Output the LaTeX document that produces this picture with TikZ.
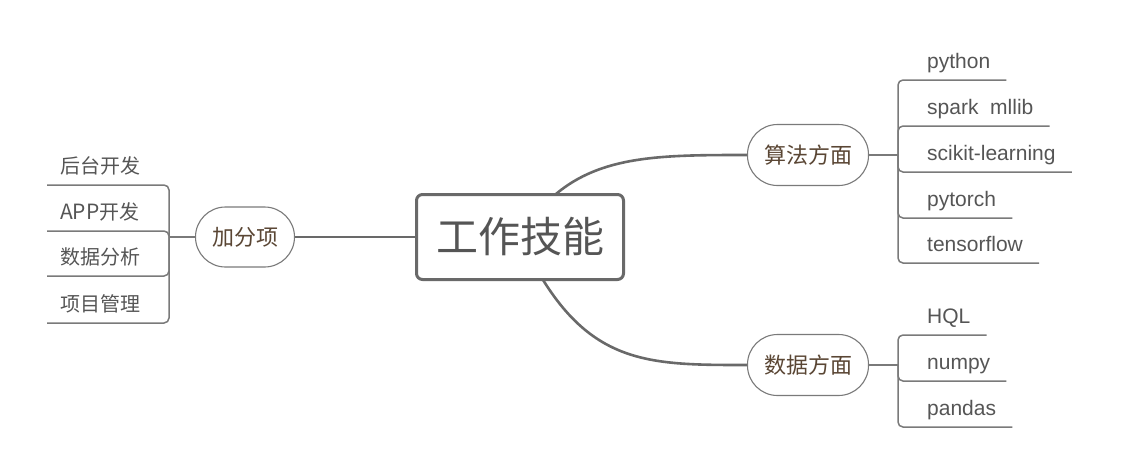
\documentclass[tikz,border=0pt]{standalone}
\usepackage{fontspec}
\setmainfont{Liberation Sans}
\newfontfamily\cjk{Noto Sans CJK SC}
\usepackage{tikz}
\usetikzlibrary{positioning, backgrounds}
\definecolor{linegray}{HTML}{696969}
\definecolor{rimgray}{HTML}{7A7A7A}
\definecolor{textgray}{HTML}{555555}
\definecolor{topicbrown}{HTML}{5A4634}

\begin{document}
\begin{tikzpicture}[x=1pt, y=-1pt,
  rootbox/.style={rectangle, draw=linegray, line width=3pt, rounded corners=6pt, fill=white,
             minimum width=207pt, minimum height=85pt, text=textgray,
             font=\cjk\fontsize{42}{48}\selectfont},
  topicbox/.style={rectangle, draw=rimgray, line width=1.1pt, rounded corners=30pt, fill=white,
             minimum width=121pt, minimum height=61pt, text=topicbrown,
             font=\cjk\fontsize{22}{26}\selectfont},
  leaf/.style={anchor=base west, inner sep=0pt, text=textgray, font=\fontsize{21}{25}\selectfont},
  leafcn/.style={leaf, font=\cjk\fontsize{20}{24}\selectfont},
  mainlink/.style={draw=linegray, line width=2.6pt},
  leaflink/.style={draw=rimgray, line width=1.5pt, rounded corners=5pt}
]
\useasboundingbox (0,0) rectangle (1122,475);

\node[rootbox] (skill) at (520,237) {工作技能};
\node[topicbox, minimum width=99pt, minimum height=60pt] (plus) at (245,237) {加分项};
\node[topicbox] (algo) at (808,155) {算法方面};
\node[topicbox] (data) at (808,365) {数据方面};

\coordinate (plusJ) at (169,237);
\coordinate (algoJ) at (898,155);
\coordinate (dataJ) at (898,365);

\node[leafcn] (backend) at (60,173) {后台开发};
\node[leafcn] (app) at (60,219) {{\fontsize{21}{25}\selectfont APP}开发};
\node[leafcn] (analysis) at (60,264) {数据分析};
\node[leafcn] (project) at (60,311) {项目管理};

\node[leaf] (python) at (927,68) {python};
\node[leaf] (spark) at (927,114) {spark~~mllib};
\node[leaf] (sklearn) at (927,160) {scikit-learning};
\node[leaf] (torch) at (927,206) {pytorch};
\node[leaf] (tflow) at (927,251) {tensorflow};

\node[leaf] (hql) at (927,323) {HQL};
\node[leaf] (numpy) at (927,369) {numpy};
\node[leaf] (pandas) at (927,415) {pandas};

\begin{scope}[on background layer]
\draw[mainlink] (skill.center) -- (plus.east);
\draw[mainlink] (skill.center) .. controls (570,155) and (640,155) .. (algo.west);
\draw[mainlink] (skill.center) .. controls (580,365) and (640,365) .. (data.west);
\end{scope}

\draw[leaflink] (plus.west) -- (plusJ);
\draw[leaflink] (algo.east) -- (algoJ);
\draw[leaflink] (data.east) -- (dataJ);

\foreach \n in {backend, app, analysis, project}
  \draw[leaflink] (plusJ) |- ([xshift=-13pt, yshift=-12pt]\n.base west);
\foreach \n in {python, spark, sklearn, torch, tflow}
  \draw[leaflink] (algoJ) |- ([xshift=16pt, yshift=-12pt]\n.base east);
\foreach \n in {hql, numpy, pandas}
  \draw[leaflink] (dataJ) |- ([xshift=16pt, yshift=-12pt]\n.base east);

\end{tikzpicture}
\end{document}
